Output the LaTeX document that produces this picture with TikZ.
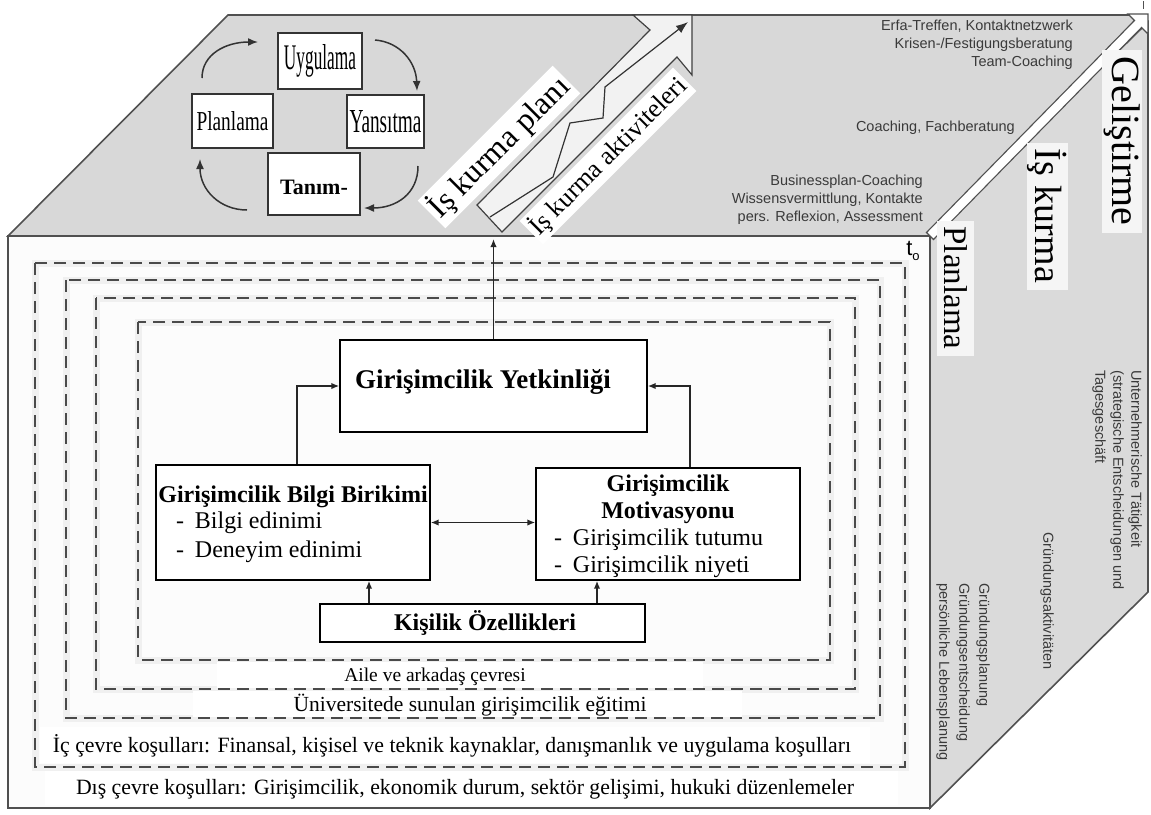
\documentclass[tikz,border=0pt]{standalone}
\usepackage{fontspec}
\usepackage{graphicx}
\setmainfont{Liberation Serif}
\newfontfamily\gersans{Liberation Sans}
\usetikzlibrary{arrows.meta}
\definecolor{topgray}{HTML}{D8D8D8}
\definecolor{sidegray}{HTML}{DADADA}
\definecolor{frontfill}{HTML}{FCFCFC}
\definecolor{edgegray}{HTML}{505050}
\definecolor{dashgray}{HTML}{4A4A4A}
\definecolor{halogray}{HTML}{F0F0F0}
\definecolor{germangray}{HTML}{3A3A3A}
\newcommand\fs[1]{\fontsize{#1}{#1}\selectfont}
\begin{document}
\begin{tikzpicture}[x=1pt,y=-1pt,
  face/.style={draw=edgegray,line width=1.6pt,line join=miter},
  box/.style={draw=black,line width=1.4pt,fill=white,inner sep=0pt},
  cbox/.style={draw=black!80,line width=1.2pt,fill=white,inner sep=0pt},
  txt/.style={inner sep=0pt},
  conn/.style={draw=black!85,line width=1.6pt,-{Latex[length=8pt,width=6.5pt]}},
  conn2/.style={draw=black!85,line width=1.6pt,{Latex[length=8pt,width=6.5pt]}-{Latex[length=8pt,width=6.5pt]}},
  cyc/.style={draw=black!80,line width=1.5pt,-{Latex[length=10pt,width=8pt]}},
  dashrect/.style={draw=dashgray,line width=2.2pt,dash pattern=on 12pt off 7pt},
  halo/.style={draw=halogray,line width=7pt},
  lblbox/.style={fill=white,inner sep=0pt},
  gtext/.style={inner sep=0pt,text=germangray,font=\gersans\fontsize{14.5}{18}\selectfont},
  stage/.style={fill=white!96!black,inner sep=0pt},
  rlabel/.style={fill=white,inner sep=3pt}
]
\useasboundingbox (0,0) rectangle (1151,814);
\fill[white] (0,0) rectangle (1151,814);

% ---------- cube faces ----------
\draw[face,fill=topgray] (8,236) -- (228,15) -- (1140,15) -- (930,236) -- cycle;
\draw[face,fill=sidegray] (930,236) -- (1148,22) -- (1148,592) -- (930,808) -- cycle;
\draw[face,fill=frontfill] (8,236) rectangle (930,808);
% diagonal strip with arrow head
\draw[draw=edgegray,line width=1.1pt,fill=white]
  (926.5,232.5) -- (1134.5,20.5) -- (1128,14) -- (1148,14) -- (1148,34)
  -- (1141.5,27.5) -- (933.5,239.5) -- cycle;
\draw[draw=edgegray,line width=1pt] (1143,1) -- (1143,9);

% ---------- top face: cycle ----------
\node[cbox,minimum width=84,minimum height=56] (uyg) at (320,61) {\resizebox{72pt}{25pt}{Uygulama}};
\node[cbox,minimum width=81,minimum height=54] (plan) at (232.5,121) {\resizebox{72pt}{19pt}{Planlama}};
\node[cbox,minimum width=77,minimum height=53] (yan) at (385.5,121.5) {\resizebox{72pt}{22pt}{Yansıtma}};
\node[cbox,minimum width=92,minimum height=62] (tan) at (314,184) {};
\node[txt,font=\bfseries\fs{22}] (tanT) at (314,187) {Tanım-};
\coordinate (c1a) at (202,78);  \coordinate (c1b) at (258,42);
\coordinate (c2a) at (375,40);  \coordinate (c2b) at (417,91);
\coordinate (c3a) at (418,166); \coordinate (c3b) at (364,208);
\coordinate (c4a) at (247,210); \coordinate (c4b) at (200,159);
\draw[cyc] (c1a) .. controls (202,54) and (226,42) .. (c1b);
\draw[cyc] (c2a) .. controls (400,42) and (416,62) .. (c2b);
\draw[cyc] (c3a) .. controls (418,194) and (396,208) .. (c3b);
\draw[cyc] (c4a) .. controls (220,210) and (200,190) .. (c4b);

% ---------- top face: big arrow ----------
\draw[draw=black!75,line width=1.2pt,fill=white!95!black,line join=miter]
  (477,205) -- (650,30) -- (633,15) -- (692,15) -- (692,75) -- (677,57) -- (502,232) -- cycle;
\coordinate (z0) at (490,217);
\coordinate (z5) at (688,22);
\draw[draw=black!80,line width=1.2pt,-{Latex[length=12pt,width=9pt]}]
  (z0) -- (553,177) -- (570,123) -- (603,118) -- (605,87) -- (z5);
\node[rlabel,rotate=45,font=\fs{32}] (planlbl) at (499,147) {İş kurma planı};
\node[rlabel,rotate=45,font=\fs{26}] (aktlbl) at (608,156) {İş kurma aktiviteleri};

% ---------- top face: German texts ----------
\node[gtext,anchor=north east,align=right] (g1) at (1073,20)
  {Erfa-Treffen, Kontaktnetzwerk\\Krisen-/Festigungsberatung\\Team-Coaching};
\node[gtext,anchor=east] (g2) at (1015,128) {Coaching, Fachberatung};
\node[gtext,anchor=north east,align=right] (g3) at (923,175)
  {Businessplan-Coaching\\Wissensvermittlung, Kontakte\\pers. Reflexion, Assessment};

% ---------- stage labels ----------
\node[stage,rotate=-90,minimum width=183,minimum height=40,font=\fs{40}] (gel) at (1122,141) {Geliştirme};
\node[stage,rotate=-90,minimum width=147,minimum height=41,font=\fs{38}] (isk) at (1047.5,216) {İş kurma};
\node[stage,rotate=-90,minimum width=135,minimum height=37,font=\fs{33}] (pla) at (955.5,288) {Planlama};

% ---------- right face German texts ----------
\node[gtext,rotate=-90,anchor=north west,align=left] (r1) at (1142,370)
  {Unternehmerische Tätigkeit\\(strategische Entscheidungen und\\Tagesgeschäft};
\node[gtext,rotate=-90] (r2) at (1047,601) {Gründungsaktivitäten};
\node[gtext,rotate=-90,anchor=north west,align=left,font=\gersans\fontsize{14.5}{20}\selectfont] (r3) at (990,583)
  {Gründungsplanung\\Gründungsentscheidung\\persönliche Lebensplanung};

% t0
\node[txt,font=\gersans\fs{22}] (t0) at (913,251) {t\raisebox{-5pt}{\fs{13}o}};

% ---------- front face: nested environments ----------
\draw[halo] (35,263) rectangle (905,767);
\draw[halo] (66,280) rectangle (880,718);
\draw[halo] (96,298) rectangle (855,689);
\draw[halo] (138,322) rectangle (830,660);

\node[lblbox,minimum width=486,minimum height=26] (aileB) at (460,675) {};
\node[lblbox,minimum width=549,minimum height=26] (univB) at (467.5,704) {};
\node[lblbox,minimum width=830,minimum height=36] (icB) at (455,745) {};
\node[lblbox,minimum width=853,minimum height=34] (disB) at (471.5,788) {};

\draw[dashrect] (35,263) rectangle (905,767);
\draw[dashrect] (66,280) rectangle (880,718);
\draw[dashrect] (96,298) rectangle (855,689);
\draw[dashrect] (138,322) rectangle (830,660);

\node[txt,font=\fs{19.5}] (aile) at (435,677) {Aile ve arkadaş çevresi};
\node[txt,font=\fs{21.5}] (univ) at (470,705) {Üniversitede sunulan girişimcilik eğitimi};
\node[txt,font=\fs{21.8}] (ic) at (452,746) {İç çevre koşulları: Finansal, kişisel ve teknik kaynaklar, danışmanlık ve uygulama koşulları};
\node[txt,font=\fs{21.8}] (dis) at (465,789) {Dış çevre koşulları: Girişimcilik, ekonomik durum, sektör gelişimi, hukuki düzenlemeler};

% ---------- central model ----------
\node[box,minimum width=307,minimum height=92] (yet) at (493.5,386) {};
\node[txt,font=\bfseries\fs{27}] (yetT) at (483,382) {Girişimcilik Yetkinliği};

\node[box,minimum width=274,minimum height=115] (bilgi) at (293,522.5) {};
\node[txt,font=\bfseries\fs{24}] (bilgiT) at (293,497) {Girişimcilik Bilgi Birikimi};
\node[txt,anchor=west,font=\fs{24}] (bilgi1) at (176,523) {-\hspace{0.45em}Bilgi edinimi};
\node[txt,anchor=west,font=\fs{24}] (bilgi2) at (176,552) {-\hspace{0.45em}Deneyim edinimi};

\node[box,minimum width=264,minimum height=112] (mot) at (668,524) {};
\node[txt,font=\bfseries\fs{24}] (motT1) at (668,486) {Girişimcilik};
\node[txt,font=\bfseries\fs{24}] (motT2) at (668,513) {Motivasyonu};
\node[txt,anchor=west,font=\fs{24}] (mot1) at (554,540) {-\hspace{0.45em}Girişimcilik tutumu};
\node[txt,anchor=west,font=\fs{24}] (mot2) at (554,567) {-\hspace{0.45em}Girişimcilik niyeti};

\node[box,minimum width=325,minimum height=38] (kis) at (482.5,623) {};
\node[txt,font=\bfseries\fs{24}] (kisT) at (485,623) {Kişilik Özellikleri};

% connectors
\coordinate (topIn) at (493.5,239);
\draw[conn] (yet.north) -- (topIn);
\draw[conn] ([xshift=4pt]bilgi.north) |- (yet.west);
\draw[conn] ([xshift=22pt]mot.north) |- (yet.east);
\draw[conn2] (bilgi.east) -- (bilgi.east -| mot.west);
\coordinate (kx1) at (369,0);
\coordinate (kx2) at (597,0);
\draw[conn] (kx1 |- kis.north) -- (kx1 |- bilgi.south);
\draw[conn] (kx2 |- kis.north) -- (kx2 |- mot.south);
\end{tikzpicture}
\end{document}
